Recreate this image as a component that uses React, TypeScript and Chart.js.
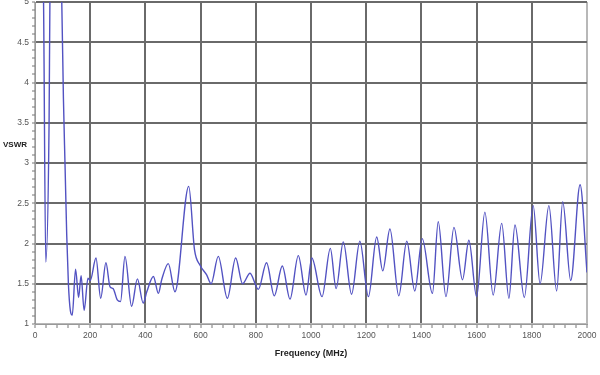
import React, { useEffect, useRef } from "react";
import { Chart, registerables } from "chart.js";

Chart.register(...registerables);

const freqMHz: number[] = [
  20, 31, 39, 51, 54, 75, 97, 103, 109, 115, 121, 128, 135, 147, 158, 167, 178, 192, 200,
  221, 238, 257, 272, 283, 298, 310, 326, 350, 371, 392, 405, 429, 447, 459, 483, 507,
  557, 578, 598, 622, 638, 664, 697, 727, 752, 779, 809, 839, 867, 896, 924, 954, 982,
  1003, 1040, 1070, 1091, 1117, 1147, 1177, 1208, 1238, 1260, 1286, 1318, 1347, 1376,
  1403, 1440, 1461, 1489, 1518, 1549, 1572, 1600, 1630, 1660, 1691, 1717, 1739, 1773,
  1805, 1830, 1862, 1890, 1912, 1941, 1975, 2000,
];

const vswr: number[] = [
  7, 5, 1.77, 3.5, 5, 7, 5, 3.8, 2.95, 2.1, 1.5, 1.17, 1.11, 1.68, 1.33, 1.6, 1.17, 1.57, 1.54,
  1.82, 1.32, 1.76, 1.46, 1.44, 1.3, 1.28, 1.84, 1.22, 1.56, 1.26, 1.4, 1.59, 1.38, 1.55, 1.75, 1.4,
  2.71, 1.92, 1.73, 1.61, 1.5, 1.84, 1.32, 1.82, 1.5, 1.63, 1.43, 1.76, 1.35, 1.72, 1.31, 1.85, 1.36,
  1.82, 1.34, 1.94, 1.44, 2.02, 1.37, 2.03, 1.34, 2.08, 1.66, 2.18, 1.35, 2.03, 1.41,
  2.06, 1.38, 2.27, 1.34, 2.2, 1.55, 2.04, 1.34, 2.39, 1.36, 2.25, 1.32, 2.23, 1.33,
  2.47, 1.5, 2.47, 1.41, 2.52, 1.54, 2.73, 1.64,
];

const xMin = 0;
const xMax = 2000;
const xMajorStep = 200;
const xMinorStep = 40;
const yMin = 1;
const yMax = 5;
const yMajorStep = 0.5;
const yMinorStep = 0.1;

const xTitle = "Frequency (MHz)";
const yTitle = "VSWR";

const FONT = "'Liberation Sans', Arial, sans-serif";

const isMajor = (v: number, step: number) => {
  const r = v / step;
  return Math.abs(r - Math.round(r)) < 1e-6;
};

export default function App() {
  const ref = useRef<HTMLCanvasElement | null>(null);

  useEffect(() => {
    document.body.style.margin = "0";
    document.body.style.overflow = "hidden";
    document.body.style.background = "#ffffff";
    const canvas = ref.current;
    if (!canvas) return;

    const yTitlePlugin = {
      id: "yTitleHorizontal",
      afterDraw(chart: any) {
        const ctx = chart.ctx;
        ctx.save();
        ctx.font = `bold 8px ${FONT}`;
        ctx.fillStyle = "#222";
        ctx.textAlign = "left";
        ctx.textBaseline = "middle";
        ctx.fillText(yTitle, 3, 145);
        ctx.restore();
      },
    };

    const chart = new Chart(canvas, {
      type: "line",
      data: {
        datasets: [
          {
            data: freqMHz.map((f, i) => ({ x: f, y: vswr[i] })),
            borderColor: "#5252c2",
            borderWidth: 1.4,
            pointRadius: 0,
            fill: false,
            cubicInterpolationMode: "monotone",
          },
        ],
      },
      options: {
        responsive: false,
        animation: false,
        layout: { padding: { top: 2, right: 13, left: 0, bottom: 0 } },
        plugins: { legend: { display: false }, tooltip: { enabled: false } },
        scales: {
          x: {
            type: "linear",
            min: xMin,
            max: xMax,
            afterFit: (s: any) => {
              s.height = 51;
              s.paddingLeft = 0;
              s.paddingRight = 0;
            },
            ticks: {
              stepSize: xMinorStep,
              autoSkip: false,
              maxRotation: 0,
              padding: 3,
              color: "#555",
              font: { family: FONT, size: 8.5 },
              callback: (v: any) => (isMajor(Number(v), xMajorStep) ? String(v) : ""),
            },
            grid: {
              color: (c: any) => {
                const v = c.tick ? c.tick.value : 0;
                if (!isMajor(v, xMajorStep)) return "rgba(0,0,0,0)";
                if (v === xMin || v === xMax) return "#b8b8b8";
                return "#6a6a6a";
              },
              lineWidth: 2,
              tickColor: "#777",
              tickLength: 4,
              tickWidth: 1,
            },
            border: { display: true, color: "#999", width: 1 },
            title: {
              display: true,
              text: xTitle,
              color: "#222",
              font: { family: FONT, size: 9, weight: "bold" },
              padding: { top: 6, bottom: 16 },
            },
          },
          y: {
            type: "linear",
            min: yMin,
            max: yMax,
            afterFit: (s: any) => {
              s.width = 35;
              s.paddingTop = 0;
              s.paddingBottom = 0;
            },
            ticks: {
              stepSize: yMinorStep,
              autoSkip: false,
              padding: 3,
              color: "#555",
              font: { family: FONT, size: 8.5 },
              callback: (v: any) => {
                const n = Number(v);
                return isMajor(n, yMajorStep) ? String(Math.round(n * 2) / 2) : "";
              },
            },
            grid: {
              color: (c: any) => {
                const v = c.tick ? c.tick.value : 0;
                if (!isMajor(v, yMajorStep)) return "rgba(0,0,0,0)";
                if (Math.abs(v - yMin) < 1e-6) return "#b8b8b8";
                return "#6a6a6a";
              },
              lineWidth: 2,
              tickColor: "#777",
              tickLength: 3,
              tickWidth: 1,
            },
            border: { display: true, color: "#999", width: 1 },
          },
        },
      },
      plugins: [yTitlePlugin],
    } as any);

    return () => chart.destroy();
  }, []);

  return (
    <div style={{ width: 600, height: 375, position: "relative" }}>
      <canvas ref={ref} width={600} height={375} style={{ display: "block" }} />
    </div>
  );
}
